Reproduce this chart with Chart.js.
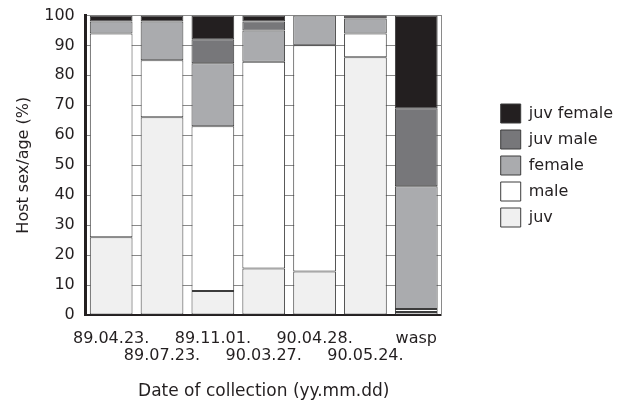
<!DOCTYPE html>
<html><head><meta charset="utf-8">
<script src="https://cdn.jsdelivr.net/npm/chart.js@4"></script>
<style>html,body{margin:0;padding:0;background:#fff}#wrap{width:622px;height:403px}</style>
</head><body><div id="wrap"><canvas id="c" width="622" height="403"></canvas></div>
<script>
const categories = ['89.04.23.', '89.07.23.', '89.11.01.', '90.03.27.', '90.04.28.', '90.05.24.', 'wasp'];
const juv       = [26, 66, 8, 15.5, 14.5, 86, 1];
const male      = [68, 19, 55, 69, 75.5, 8, 1];
const female    = [4, 13, 21, 10.5, 10, 5, 41];
const juvMale   = [0, 0, 8, 3, 0, 0, 26];
const juvFemale = [2, 2, 8, 2, 0, 1, 31];
const seriesNames = ['juv', 'male', 'female', 'juv male', 'juv female'];
const yMin = 0, yMax = 100, yStep = 10;

const FONT = 'DejaVu Sans';
const TXT = '#231f20';
const fills = ['#f0f0f0', '#ffffff', '#aaabae', '#77777a', '#231f20'];
const seriesData = [juv, male, female, juvMale, juvFemale];

const xLabels = categories.map((c, i) => i % 2 === 0 ? [c, ''] : ['', c]);

const legendShift = {
  id: 'legendShift',
  afterLayout(chart, args, opts) {
    const l = chart.legend; if (!l) return;
    l.left += opts.dx; l.right += opts.dx;
    l.top += opts.dy; l.bottom += opts.dy;
  }
};

new Chart(document.getElementById('c'), {
  type: 'bar',
  data: {
    labels: xLabels,
    datasets: seriesData.map((d, i) => ({
      label: seriesNames[i],
      data: d,
      backgroundColor: fills[i],
      borderColor: '#3c3c3c',
      borderWidth: 1,
      borderSkipped: false,
      barPercentage: 0.84,
      categoryPercentage: 1.0
    }))
  },
  options: {
    responsive: false,
    animation: false,
    layout: { padding: { top: 0, left: 4, right: 51, bottom: 0 } },
    plugins: {
      legend: {
        position: 'right',
        reverse: true,
        maxWidth: 140,
        labels: {
          boxWidth: 20, boxHeight: 19, padding: 7,
          font: { family: FONT, size: 16 }, color: TXT
        }
      },
      legendShift: { dx: 52, dy: -36 },
      tooltip: { enabled: false }
    },
    scales: {
      x: {
        stacked: true,
        grid: { display: false, drawTicks: false },
        border: { display: true, color: '#231f20', width: 2 },
        ticks: {
          autoSkip: false, maxRotation: 0, minRotation: 0, padding: 15,
          font: { family: FONT, size: 16, lineHeight: 1.08 }, color: TXT
        },
        title: {
          display: true, text: 'Date of collection (yy.mm.dd)',
          font: { family: FONT, size: 17 }, color: TXT,
          padding: { top: 2, bottom: 1 }
        }
      },
      y: {
        stacked: true,
        min: yMin, max: yMax,
        grid: { color: '#8a8a8a', lineWidth: 1, drawTicks: false },
        border: { display: true, color: '#231f20', width: 3 },
        ticks: {
          stepSize: yStep, padding: 11,
          font: { family: FONT, size: 16, lineHeight: 0.55 }, color: TXT
        },
        title: {
          display: true, text: 'Host sex/age (%)',
          font: { family: FONT, size: 16 }, color: TXT,
          padding: { top: 10, bottom: 0 }
        }
      },
      y2: {
        position: 'right',
        min: yMin, max: yMax,
        grid: { display: false, drawTicks: false },
        ticks: { display: false },
        border: { display: true, color: '#8a8a8a', width: 1 }
      }
    }
  },
  plugins: [legendShift]
});
</script>
</body></html>
